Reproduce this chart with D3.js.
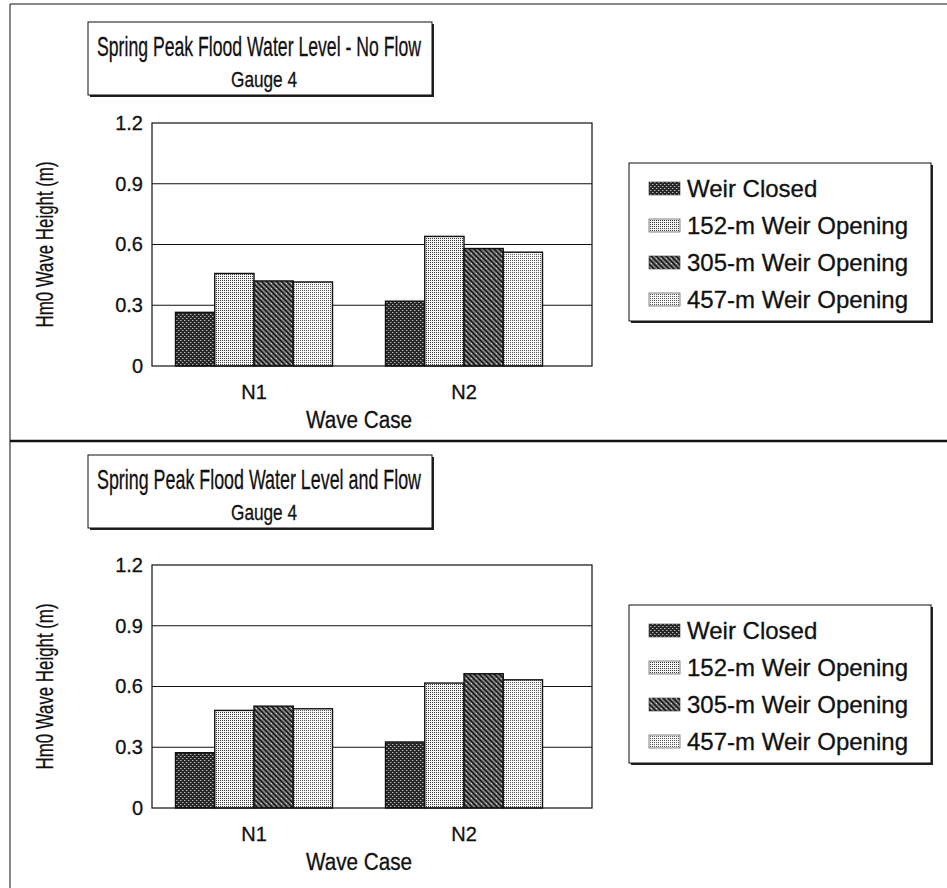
<!DOCTYPE html>
<html>
<head>
<meta charset="utf-8">
<script src="https://cdn.jsdelivr.net/npm/d3@7/dist/d3.min.js"></script>
<style>
  html, body { margin: 0; padding: 0; background: #fff; }
  svg { display: block; font-family: "Liberation Sans", Arial, sans-serif; }
  svg text { stroke: #111; stroke-width: 0.3px; }
</style>
</head>
<body>
<svg id="chart" width="947" height="888"></svg>
<script>
// ---- data ----
const categories = ["N1", "N2"];
const seriesNames = ["Weir Closed", "152-m Weir Opening", "305-m Weir Opening", "457-m Weir Opening"];
const noFlowValues = [
  [0.265, 0.32],   // Weir Closed
  [0.457, 0.64],   // 152-m
  [0.42, 0.58],    // 305-m
  [0.415, 0.562]   // 457-m
];
const flowValues = [
  [0.273, 0.326],
  [0.482, 0.617],
  [0.503, 0.663],
  [0.49, 0.633]
];
const yTicks = [0, 0.3, 0.6, 0.9, 1.2];
const yTickLabels = ["0", "0.3", "0.6", "0.9", "1.2"];
const panelTitles = ["Spring Peak Flood Water Level - No Flow", "Spring Peak Flood Water Level and Flow"];
const subTitle = "Gauge 4";
const yTitle = "Hm0 Wave Height (m)";
const xTitle = "Wave Case";

const svg = d3.select("#chart");
const defs = svg.append("defs");
const INK = "#111";

// patterns
function pat(id, size, bg, draw) {
  const p = defs.append("pattern").attr("id", id)
    .attr("patternUnits", "userSpaceOnUse").attr("width", size).attr("height", size);
  p.append("rect").attr("width", size).attr("height", size).attr("fill", bg);
  draw(p);
}
pat("pClosed", 4, "#262626", p => {
  [[0,0],[2,2]].forEach(([x,y]) => p.append("rect").attr("x", x).attr("y", y).attr("width", 1).attr("height", 1).attr("fill", "#b5b5b5"));
  [[1,0],[3,2]].forEach(([x,y]) => p.append("rect").attr("x", x).attr("y", y).attr("width", 1).attr("height", 1).attr("fill", "#6a6a6a"));
});
pat("p152", 2, "#f4f4f4", p => {
  p.append("rect").attr("x", 0).attr("y", 0).attr("width", 1).attr("height", 1).attr("fill", "#3a3a3a");
});
pat("p305", 5, "#7e7e7e", p => {
  p.append("rect").attr("x", 1).attr("y", 3).attr("width", 1).attr("height", 1).attr("fill", "#d6d6d6");
  p.append("path").attr("d", "M-1,-1 L6,6 M-1,4 L1,6 M4,-1 L6,1")
    .attr("stroke", "#111").attr("stroke-width", 1.5);
});
pat("p457", 2, "#f8f8f8", p => {
  p.append("rect").attr("x", 0).attr("y", 0).attr("width", 1).attr("height", 1).attr("fill", "#555");
});
const fills = ["url(#pClosed)", "url(#p152)", "url(#p305)", "url(#p457)"];

// outer frame
svg.append("line").attr("x1", 10).attr("x2", 10).attr("y1", 4).attr("y2", 888).attr("stroke", INK).attr("stroke-width", 1);
svg.append("line").attr("x1", 10).attr("x2", 947).attr("y1", 4).attr("y2", 4).attr("stroke", INK).attr("stroke-width", 1);
svg.append("line").attr("x1", 10).attr("x2", 947).attr("y1", 441).attr("y2", 441).attr("stroke", INK).attr("stroke-width", 2.5);

function shadowBox(g, x, y, w, h) {
  g.append("rect").attr("x", x + 2).attr("y", y + 2).attr("width", w).attr("height", h).attr("fill", "#222");
  g.append("rect").attr("x", x).attr("y", y).attr("width", w).attr("height", h)
    .attr("fill", "#fff").attr("stroke", INK).attr("stroke-width", 1);
}

function panel(oy, titleY, title, values) {
  const g = svg.append("g").attr("fill", INK);
  // title box
  shadowBox(g, 88, titleY, 344, 73);
  g.append("text").attr("x", 259).attr("y", titleY + 34).attr("text-anchor", "middle")
    .attr("font-size", 28).attr("textLength", 324).attr("lengthAdjust", "spacingAndGlyphs").text(title);
  g.append("text").attr("x", 264).attr("y", titleY + 65).attr("text-anchor", "middle")
    .attr("font-size", 22).attr("textLength", 66).attr("lengthAdjust", "spacingAndGlyphs").text(subTitle);

  const plot = { left: 152, right: 592, top: oy + 123, bottom: oy + 366 };
  const y = d3.scaleLinear().domain([0, 1.2]).range([plot.bottom, plot.top]);
  const x0 = d3.scaleBand().domain(categories).range([149, 569]).paddingInner(0);
  const groupW = 157;
  const x1 = d3.scaleBand().domain(d3.range(seriesNames.length)).range([0, groupW]).padding(0);

  // gridlines
  g.append("g").selectAll("line").data(yTicks.filter(t => t > 0 && t < 1.2)).join("line")
    .attr("x1", plot.left).attr("x2", plot.right)
    .attr("y1", d => y(d)).attr("y2", d => y(d))
    .attr("stroke", INK).attr("stroke-width", 1.2);

  // bars
  const bars = [];
  seriesNames.forEach((s, si) => categories.forEach((c, ci) => bars.push({ si, c, v: values[si][ci] })));
  g.append("g").selectAll("rect").data(bars).join("rect")
    .attr("x", d => x0(d.c) + (x0.bandwidth() - groupW) / 2 + x1(d.si))
    .attr("width", x1.bandwidth())
    .attr("y", d => y(d.v)).attr("height", d => y(0) - y(d.v))
    .attr("fill", d => fills[d.si]).attr("stroke", INK).attr("stroke-width", 1.4);

  // frame
  g.append("rect").attr("x", plot.left).attr("y", plot.top)
    .attr("width", plot.right - plot.left).attr("height", plot.bottom - plot.top)
    .attr("fill", "none").attr("stroke", INK).attr("stroke-width", 1.2);

  // y axis
  const ya = d3.axisLeft(y).tickValues(yTicks).tickSize(0).tickPadding(9)
    .tickFormat((d, i) => yTickLabels[i]);
  const yg = g.append("g").attr("transform", `translate(${plot.left},0)`).call(ya);
  yg.select(".domain").remove();
  yg.selectAll("text").attr("font-size", 20).attr("font-family", "Liberation Sans, Arial, sans-serif").attr("fill", INK);

  // x axis
  const xa = d3.axisBottom(x0).tickSize(0).tickPadding(19);
  const xg = g.append("g").attr("transform", `translate(0,${plot.bottom})`).call(xa);
  xg.select(".domain").remove();
  xg.selectAll("text").attr("font-size", 20).attr("font-family", "Liberation Sans, Arial, sans-serif").attr("fill", INK);

  // axis titles
  g.append("text").attr("transform", `translate(53,${(plot.top + plot.bottom) / 2}) rotate(-90)`)
    .attr("text-anchor", "middle").attr("font-size", 24)
    .attr("textLength", 166).attr("lengthAdjust", "spacingAndGlyphs").text(yTitle);
  g.append("text").attr("x", 359).attr("y", oy + 428).attr("text-anchor", "middle")
    .attr("font-size", 23).attr("textLength", 106).attr("lengthAdjust", "spacingAndGlyphs").text(xTitle);

  // legend
  const lg = g.append("g");
  shadowBox(lg, 629, oy + 163, 302, 158);
  seriesNames.forEach((s, i) => {
    const cy = oy + 189 + i * 37;
    lg.append("rect").attr("x", 649).attr("y", cy - 7).attr("width", 31).attr("height", 13)
      .attr("fill", fills[i]).attr("stroke", "#333").attr("stroke-width", 0.6);
    lg.append("text").attr("x", 687).attr("y", cy + 8).attr("font-size", 24).attr("fill", INK).text(s);
  });
}

panel(0, 22, panelTitles[0], noFlowValues);
panel(442, 455, panelTitles[1], flowValues);
</script>
</body>
</html>
